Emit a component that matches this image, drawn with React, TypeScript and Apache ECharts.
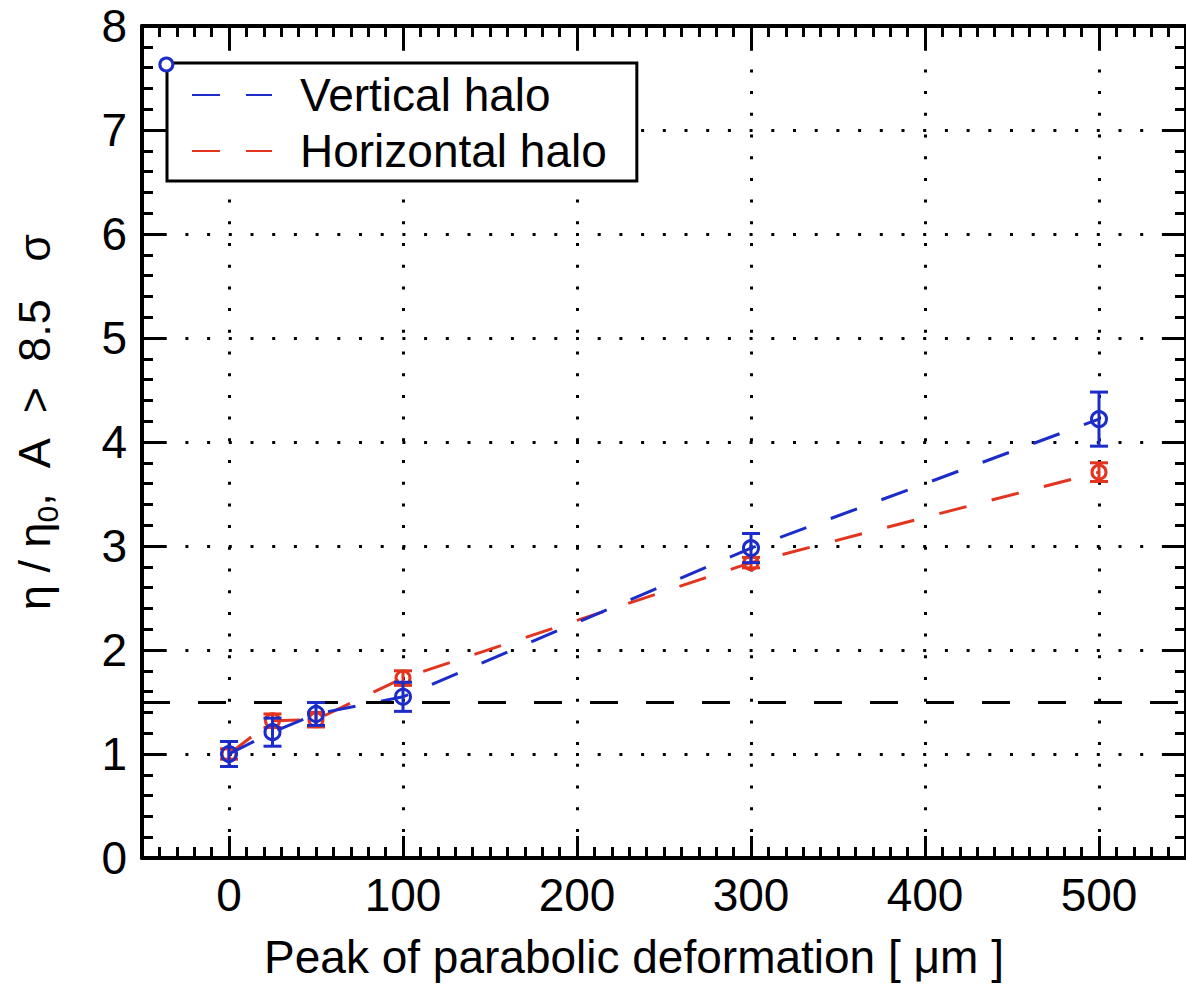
import React, { useEffect, useRef } from "react";
import * as echarts from "echarts";

const xValues = [0, 25, 50, 100, 300, 500];
const verticalY = [1.0, 1.21, 1.385, 1.55, 2.98, 4.22];
const verticalErr = [0.12, 0.135, 0.11, 0.14, 0.14, 0.26];
const horizontalY = [1.0, 1.32, 1.33, 1.73, 2.84, 3.71];
const horizontalErr = [0.05, 0.065, 0.07, 0.07, 0.05, 0.09];
const strayPoint = [-36, 7.63];
const thresholdY = 1.5;
const xTickValues = [0, 100, 200, 300, 400, 500];

const BLUE = "#1c2cc8";
const RED = "#e2341f";
const FONT = "'Liberation Sans', Arial, Helvetica, sans-serif";
const NB = "\u00a0";

function errorBarSeries(name: string, ys: number[], errs: number[], color: string) {
  return {
    name,
    type: "custom",
    xAxisIndex: 0,
    yAxisIndex: 0,
    z: 3,
    encode: { x: 0, y: 1 },
    data: xValues.map((x, i) => [x, ys[i], errs[i]]),
    renderItem: (_params: any, api: any) => {
      const x = api.value(0);
      const y = api.value(1);
      const e = api.value(2);
      const hi = api.coord([x, y + e]);
      const lo = api.coord([x, y - e]);
      const w = 9;
      const style = { stroke: color, lineWidth: 3 };
      return {
        type: "group",
        children: [
          { type: "line", shape: { x1: hi[0], y1: hi[1], x2: lo[0], y2: lo[1] }, style },
          { type: "line", shape: { x1: hi[0] - w, y1: hi[1], x2: hi[0] + w, y2: hi[1] }, style },
          { type: "line", shape: { x1: lo[0] - w, y1: lo[1], x2: lo[0] + w, y2: lo[1] }, style },
        ],
      };
    },
  };
}

export default function App() {
  const ref = useRef<HTMLDivElement>(null);
  useEffect(() => {
    if (!ref.current) return;
    const chart = echarts.init(ref.current, undefined, { renderer: "svg" });
    const dotted = { color: "#000", width: 3, type: [3, 18.7] as number[] };
    const tickStyle = { color: "#000", width: 3 };
    const axisLine = { show: true, onZero: false, lineStyle: { color: "#000", width: 4 } };
    const gridRect = { left: 142, right: -7, top: 26, bottom: 132, containLabel: false };
    const yTitle =
      "{a|η / η}{s|0}{a|," + NB + NB + "A" + NB + NB + ">" + NB + NB + "8.5" + NB + NB + NB + "σ}";
    chart.setOption({
      animation: false,
      backgroundColor: "#fff",
      grid: [gridRect, gridRect],
      xAxis: [
        {
          type: "value",
          gridIndex: 0,
          position: "bottom",
          min: -50,
          max: 550,
          axisLine,
          axisTick: { show: true, inside: true, length: 22, lineStyle: tickStyle, customValues: xTickValues },
          axisLabel: {
            show: true,
            customValues: xTickValues,
            fontSize: 46,
            color: "#000",
            fontFamily: FONT,
            margin: 14,
          },
          splitLine: { show: true, lineStyle: dotted },
          name: "Peak of parabolic deformation [ μm ]",
          nameLocation: "middle",
          nameGap: 76,
          nameTextStyle: { fontSize: 46, color: "#000", fontFamily: FONT, padding: [0, 60, 0, 0] },
        },
        {
          type: "value",
          gridIndex: 0,
          position: "top",
          min: -50,
          max: 550,
          axisLine,
          axisTick: { show: true, inside: true, length: 22, lineStyle: tickStyle, customValues: xTickValues },
          axisLabel: { show: false },
          splitLine: { show: false },
        },
        {
          type: "value",
          gridIndex: 1,
          position: "bottom",
          min: -50,
          max: 550,
          interval: 10,
          axisLine: { show: false, onZero: false },
          axisTick: { show: true, inside: true, length: 11, lineStyle: tickStyle },
          axisLabel: { show: false },
          splitLine: { show: false },
        },
        {
          type: "value",
          gridIndex: 1,
          position: "top",
          min: -50,
          max: 550,
          interval: 10,
          axisLine: { show: false, onZero: false },
          axisTick: { show: true, inside: true, length: 11, lineStyle: tickStyle },
          axisLabel: { show: false },
          splitLine: { show: false },
        },
      ],
      yAxis: [
        {
          type: "value",
          gridIndex: 0,
          position: "left",
          min: 0,
          max: 8,
          interval: 1,
          axisLine,
          axisTick: { show: true, inside: true, length: 22, lineStyle: tickStyle },
          minorTick: { show: true, splitNumber: 5, length: 11, lineStyle: tickStyle },
          axisLabel: { show: true, fontSize: 46, color: "#000", fontFamily: FONT, margin: 15 },
          splitLine: { show: true, lineStyle: dotted },
          name: yTitle,
          nameLocation: "middle",
          nameGap: 80,
          nameTextStyle: {
            color: "#000",
            fontFamily: FONT,
            padding: [0, 0, 0, 40],
            rich: {
              a: { fontSize: 45, lineHeight: 56, color: "#000", fontFamily: FONT },
              s: { fontSize: 30, lineHeight: 30, verticalAlign: "bottom", color: "#000", fontFamily: FONT },
            },
          },
        },
        {
          type: "value",
          gridIndex: 0,
          position: "right",
          min: 0,
          max: 8,
          interval: 1,
          axisLine,
          axisTick: { show: true, inside: true, length: 22, lineStyle: tickStyle },
          minorTick: { show: true, splitNumber: 5, length: 11, lineStyle: tickStyle },
          axisLabel: { show: false },
          splitLine: { show: false },
        },
        {
          type: "value",
          gridIndex: 1,
          min: 0,
          max: 8,
          show: false,
        },
      ],
      legend: {
        data: ["Vertical halo", "Horizontal halo"],
        orient: "vertical",
        left: 167,
        top: 63,
        itemWidth: 80,
        itemHeight: 14,
        itemGap: 10,
        padding: [9, 30, 7, 24],
        borderColor: "#000",
        borderWidth: 3,
        backgroundColor: "#fff",
        itemStyle: { opacity: 0 },
        textStyle: { fontSize: 46, color: "#000", fontFamily: FONT, padding: [0, 0, 0, 23] },
        selectedMode: false,
      },
      series: [
        {
          name: "Horizontal halo",
          type: "line",
          xAxisIndex: 0,
          yAxisIndex: 0,
          data: xValues.map((x, i) => [x, horizontalY[i]]),
          symbol: "none",
          lineStyle: { color: RED, width: 3, type: [28, 26] },
          itemStyle: { color: RED },
          z: 2,
        },
        errorBarSeries("Horizontal halo error", horizontalY, horizontalErr, RED),
        {
          name: "Horizontal halo points",
          type: "scatter",
          xAxisIndex: 0,
          yAxisIndex: 0,
          data: xValues.map((x, i) => [x, horizontalY[i]]),
          symbol: "circle",
          symbolSize: 14,
          itemStyle: { color: "transparent", borderColor: RED, borderWidth: 3, opacity: 1 },
          z: 3,
        },
        {
          name: "Vertical halo",
          type: "line",
          xAxisIndex: 0,
          yAxisIndex: 0,
          data: xValues.map((x, i) => [x, verticalY[i]]),
          symbol: "none",
          lineStyle: { color: BLUE, width: 3, type: [28, 26] },
          itemStyle: { color: BLUE },
          z: 4,
          markLine: {
            silent: true,
            symbol: ["none", "none"],
            label: { show: false },
            lineStyle: { color: "#000", width: 3, type: [28, 28] },
            data: [{ yAxis: thresholdY }],
          },
        },
        { ...errorBarSeries("Vertical halo error", verticalY, verticalErr, BLUE), z: 5 },
        {
          name: "Vertical halo points",
          type: "scatter",
          xAxisIndex: 0,
          yAxisIndex: 0,
          data: xValues.map((x, i) => [x, verticalY[i]]),
          symbol: "circle",
          symbolSize: 15,
          itemStyle: { color: "transparent", borderColor: BLUE, borderWidth: 3, opacity: 1 },
          z: 6,
        },
        {
          name: "Vertical halo extra",
          type: "scatter",
          xAxisIndex: 0,
          yAxisIndex: 0,
          data: [strayPoint],
          symbol: "circle",
          symbolSize: 13,
          itemStyle: { color: "#fff", borderColor: BLUE, borderWidth: 3, opacity: 1 },
          z: 10,
        },
      ],
    });
    return () => chart.dispose();
  }, []);
  return (
    <div
      ref={ref}
      style={{ position: "absolute", left: 0, top: 0, width: 1186, height: 990, background: "#fff" }}
    />
  );
}
